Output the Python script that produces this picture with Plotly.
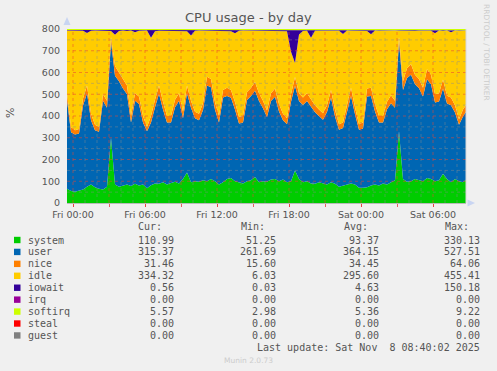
import pandas as pd
import plotly.graph_objects as go

# ---------------- data (20-minute samples, Thu 23:30 -> Sat 08:50) ----------------
start_time = "2025-11-06 23:30"
step = "20min"

system = [66, 55, 52, 58, 62, 75, 85, 72, 65, 62,
          75, 300, 85, 75, 80, 85, 78, 88, 80, 85,
          68, 82, 90, 88, 95, 85, 92, 98, 90, 110,
          140, 95, 100, 98, 105, 100, 110, 100, 85, 95,
          110, 115, 100, 95, 90, 100, 105, 120, 95, 100,
          98, 108, 110, 100, 108, 95, 100, 150, 110, 95,
          100, 90, 88, 95, 90, 85, 95, 88, 75, 80,
          82, 90, 85, 70, 70, 72, 80, 85, 80, 90,
          85, 95, 105, 330, 110, 98, 100, 110, 105, 100,
          115, 110, 100, 105, 135, 110, 95, 110, 100, 95,
          111]
user = [407, 270, 263, 262, 386, 430, 295, 263, 263, 408,
        363, 443, 500, 485, 447, 415, 292, 382, 375, 285,
        262, 288, 350, 414, 335, 285, 278, 342, 380, 280,
        365, 343, 290, 282, 323, 440, 422, 329, 285, 390,
        382, 369, 330, 270, 280, 374, 387, 396, 374, 336,
        297, 361, 378, 321, 272, 267, 366, 389, 359, 356,
        369, 351, 329, 305, 293, 333, 389, 310, 262, 265,
        341, 402, 323, 267, 272, 418, 412, 336, 290, 280,
        346, 364, 333, 413, 410, 477, 490, 436, 423, 390,
        454, 436, 362, 362, 391, 347, 354, 306, 260, 303,
        315]
nice = [30, 25, 20, 20, 32, 35, 30, 25, 22, 30,
        32, 20, 45, 40, 38, 40, 30, 35, 35, 30,
        20, 30, 35, 38, 35, 30, 30, 35, 35, 30,
        35, 32, 30, 30, 32, 40, 38, 35, 30, 35,
        38, 36, 34, 30, 30, 36, 38, 40, 36, 34,
        30, 36, 38, 34, 30, 28, 34, 40, 36, 34,
        36, 34, 32, 30, 30, 32, 36, 32, 25, 25,
        32, 38, 32, 25, 28, 36, 38, 34, 30, 30,
        34, 36, 32, 20, 40, 45, 48, 44, 42, 40,
        46, 44, 38, 38, 42, 36, 36, 34, 25, 32,
        31]
idle = [290, 443, 456, 453, 312, 242, 382, 433, 443, 292,
        322, 28, 144, 191, 228, 251, 393, 280, 302, 393,
        443, 360, 315, 252, 327, 393, 393, 317, 287, 373,
        250, 300, 372, 383, 333, 211, 222, 329, 392, 273,
        262, 270, 316, 397, 393, 283, 261, 236, 288, 322,
        368, 288, 265, 338, 383, 400, 195, 65, 270, 306,
        287, 285, 343, 363, 380, 342, 272, 363, 430, 407,
        338, 262, 352, 431, 423, 265, 246, 338, 392, 393,
        328, 297, 323, 29, 231, 172, 154, 201, 222, 263,
        176, 202, 280, 288, 223, 300, 300, 343, 407, 363,
        336]
iowait = [2, 2, 3, 2, 3, 12, 3, 2, 2, 3,
          2, 4, 20, 4, 2, 3, 2, 10, 3, 2,
          2, 35, 4, 2, 3, 2, 2, 3, 2, 2,
          4, 25, 3, 2, 2, 3, 2, 2, 3, 2,
          2, 4, 15, 3, 2, 2, 3, 2, 2, 3,
          2, 2, 3, 2, 2, 5, 100, 150, 20, 4,
          3, 35, 3, 2, 2, 3, 2, 2, 3, 18,
          2, 2, 3, 2, 2, 3, 18, 2, 3, 2,
          2, 3, 2, 2, 3, 2, 2, 3, 2, 2,
          3, 2, 15, 2, 3, 2, 10, 2, 3, 2,
          1]
softirq = [5, 5, 6, 5, 5, 6, 5, 5, 5, 5,
           6, 5, 6, 5, 5, 6, 5, 5, 5, 5,
           5, 5, 6, 6, 5, 5, 5, 5, 6, 5,
           6, 5, 5, 5, 5, 6, 6, 5, 5, 5,
           6, 6, 5, 5, 5, 5, 6, 6, 5, 5,
           5, 5, 6, 5, 5, 5, 5, 6, 5, 5,
           5, 5, 5, 5, 5, 5, 6, 5, 5, 5,
           5, 6, 5, 5, 5, 6, 6, 5, 5, 5,
           5, 5, 5, 6, 6, 6, 6, 6, 6, 5,
           6, 6, 5, 5, 6, 5, 5, 5, 5, 5,
           6]
irq = [0] * 101
steal = [0] * 101
guest = [0] * 101

series_names = ["system", "user", "nice", "idle", "iowait", "irq", "softirq", "steal", "guest"]
series_colors = ["#00CC00", "#0066B3", "#FF8000", "#FFCC00", "#330099",
                 "#990099", "#CCFF00", "#FF0000", "#808080"]
series_values = [system, user, nice, idle, iowait, irq, softirq, steal, guest]

legend_cur = ["110.99", "315.37", "31.46", "334.32", "0.56", "0.00", "5.57", "0.00", "0.00"]
legend_min = ["51.25", "261.69", "15.60", "6.03", "0.03", "0.00", "2.98", "0.00", "0.00"]
legend_avg = ["93.37", "364.15", "34.45", "295.60", "4.63", "0.00", "5.36", "0.00", "0.00"]
legend_max = ["330.13", "527.51", "64.06", "455.41", "150.18", "0.00", "9.22", "0.00", "0.00"]

tick_times = ["2025-11-07 00:00", "2025-11-07 06:00", "2025-11-07 12:00",
              "2025-11-07 18:00", "2025-11-08 00:00", "2025-11-08 06:00"]
tick_labels = ["Fri 00:00", "Fri 06:00", "Fri 12:00", "Fri 18:00", "Sat 00:00", "Sat 06:00"]
x_range = ["2025-11-06 23:30", "2025-11-08 08:45"]
y_ticks = [0, 100, 200, 300, 400, 500, 600, 700, 800]

# ---------------- figure ----------------
W, H = 497, 371
L, R, T, B = 67, 466, 29, 203  # plot box in pixels

def px(x):
    return (x - L) / (R - L)

def py(y):
    return (B - y) / (B - T)

times = pd.date_range(start_time, periods=len(system), freq=step)

fig = go.Figure()
for name, color, vals in zip(series_names, series_colors, series_values):
    fig.add_trace(go.Scatter(
        x=times, y=vals, name=name, mode="lines", stackgroup="one",
        line=dict(width=0, color=color), fillcolor=color, showlegend=False,
    ))

shapes = []
# grid drawn over the areas (as in munin)
for v in range(50, 800, 50):
    major = v % 100 == 0
    shapes.append(dict(type="line", xref="paper", yref="y", x0=0, x1=1, y0=v, y1=v,
                       layer="above",
                       line=dict(color="rgba(235,70,50,0.55)" if major else "rgba(140,140,140,0.45)",
                                 width=1, dash="dot")))
hours = pd.date_range("2025-11-07 00:00", "2025-11-08 08:00", freq="1h")
for hh in hours:
    major = hh.hour % 3 == 0
    shapes.append(dict(type="line", xref="x", yref="paper", x0=hh, x1=hh, y0=0, y1=1,
                       layer="above",
                       line=dict(color="rgba(235,70,50,0.55)" if major else "rgba(140,140,140,0.45)",
                                 width=1, dash="dot")))
# right frame line
shapes.append(dict(type="line", xref="paper", yref="paper", x0=1, x1=1, y0=0, y1=1,
                   line=dict(color="#d8d8d8", width=1), layer="above"))
# axis arrows
shapes.append(dict(type="path", xref="paper", yref="paper",
                   path=f"M {px(63.5)} {py(25)} L {px(70.5)} {py(25)} L {px(67)} {py(17)} Z",
                   fillcolor="#c9d5f2", line=dict(width=0)))
shapes.append(dict(type="path", xref="paper", yref="paper",
                   path=f"M {px(467.5)} {py(199.5)} L {px(467.5)} {py(206.5)} L {px(475)} {py(203)} Z",
                   fillcolor="#c9d5f2", line=dict(width=0)))

mono = "DejaVu Sans Mono"
txt_col = "#555555"
annotations = []
annotations.append(dict(text="CPU usage - by day", x=px(248), y=py(18), xref="paper", yref="paper",
                        showarrow=False, xanchor="center", yanchor="middle",
                        font=dict(family="DejaVu Sans", size=13, color="#555555")))
annotations.append(dict(text="%", x=px(10), y=py(113), xref="paper", yref="paper",
                        showarrow=False, textangle=-90, xanchor="center", yanchor="middle",
                        font=dict(family="DejaVu Sans", size=11, color="#555555")))
annotations.append(dict(text="RRDTOOL / TOBI OETIKER", x=px(487), y=py(52), xref="paper", yref="paper",
                        showarrow=False, textangle=90, xanchor="center", yanchor="middle",
                        font=dict(family="DejaVu Sans", size=7.5, color="#cccccc")))

# legend table
hdr_y = 226.7
col_right = [175.5, 278, 381, 482]
for xr, hdr in zip([163.5, 267, 370, 470.5], ["Cur:", "Min:", "Avg:", "Max:"]):
    annotations.append(dict(text=hdr, x=px(xr), y=py(hdr_y), xref="paper", yref="paper",
                            showarrow=False, xanchor="right", yanchor="middle",
                            font=dict(family=mono, size=10, color=txt_col)))
row0, row_step = 240.0, 11.93
for i, name in enumerate(series_names):
    yy = row0 + i * row_step
    shapes.append(dict(type="rect", xref="paper", yref="paper",
                       x0=px(14), x1=px(20.5), y0=py(yy + 3.2), y1=py(yy - 3.2),
                       fillcolor=series_colors[i], line=dict(width=0)))
    annotations.append(dict(text=name, x=px(26), y=py(yy), xref="paper", yref="paper",
                            showarrow=False, xanchor="left", yanchor="middle",
                            font=dict(family=mono, size=10, color=txt_col)))
    for xr, col in zip(col_right, [legend_cur, legend_min, legend_avg, legend_max]):
        annotations.append(dict(text=col[i], x=px(xr), y=py(yy), xref="paper", yref="paper",
                                showarrow=False, xanchor="right", yanchor="middle",
                                font=dict(family=mono, size=10, color=txt_col)))
annotations.append(dict(text="Last update: Sat Nov  8 08:40:02 2025".replace("  ", "&nbsp; "),
                        x=px(482), y=py(347.7), xref="paper", yref="paper",
                        showarrow=False, xanchor="right", yanchor="middle",
                        font=dict(family=mono, size=10, color=txt_col)))
annotations.append(dict(text="Munin 2.0.73", x=px(248), y=py(360), xref="paper", yref="paper",
                        showarrow=False, xanchor="center", yanchor="middle",
                        font=dict(family="DejaVu Sans", size=7.5, color="#cccccc")))

fig.update_layout(
    width=W, height=H,
    margin=dict(l=L, r=W - R, t=T, b=H - B, pad=0),
    paper_bgcolor="#F0F0F0", plot_bgcolor="#FFFFFF",
    showlegend=False,
    shapes=shapes, annotations=annotations,
    font=dict(family="DejaVu Sans", size=9.5, color="#555555"),
)
fig.update_xaxes(
    type="date", range=x_range, tickvals=tick_times, ticktext=tick_labels,
    showgrid=False, zeroline=False, showline=True, linecolor="#bbbbbb", linewidth=1,
    ticks="outside", ticklen=3, tickcolor="rgba(230,60,60,0.8)",
    minor=dict(dtick=3 * 3600 * 1000, tick0="2025-11-07 00:00", ticks="outside",
               ticklen=3, tickcolor="rgba(230,60,60,0.8)"),
    tickfont=dict(family="DejaVu Sans", size=9.5, color="#555555"),
    fixedrange=True,
)
fig.update_yaxes(
    range=[0, 800], tickvals=y_ticks, showgrid=False, zeroline=False,
    showline=False, ticks="", ticklabelstandoff=6,
    tickfont=dict(family="DejaVu Sans", size=9.5, color="#555555"),
    fixedrange=True,
)

fig.write_html("out.html")
